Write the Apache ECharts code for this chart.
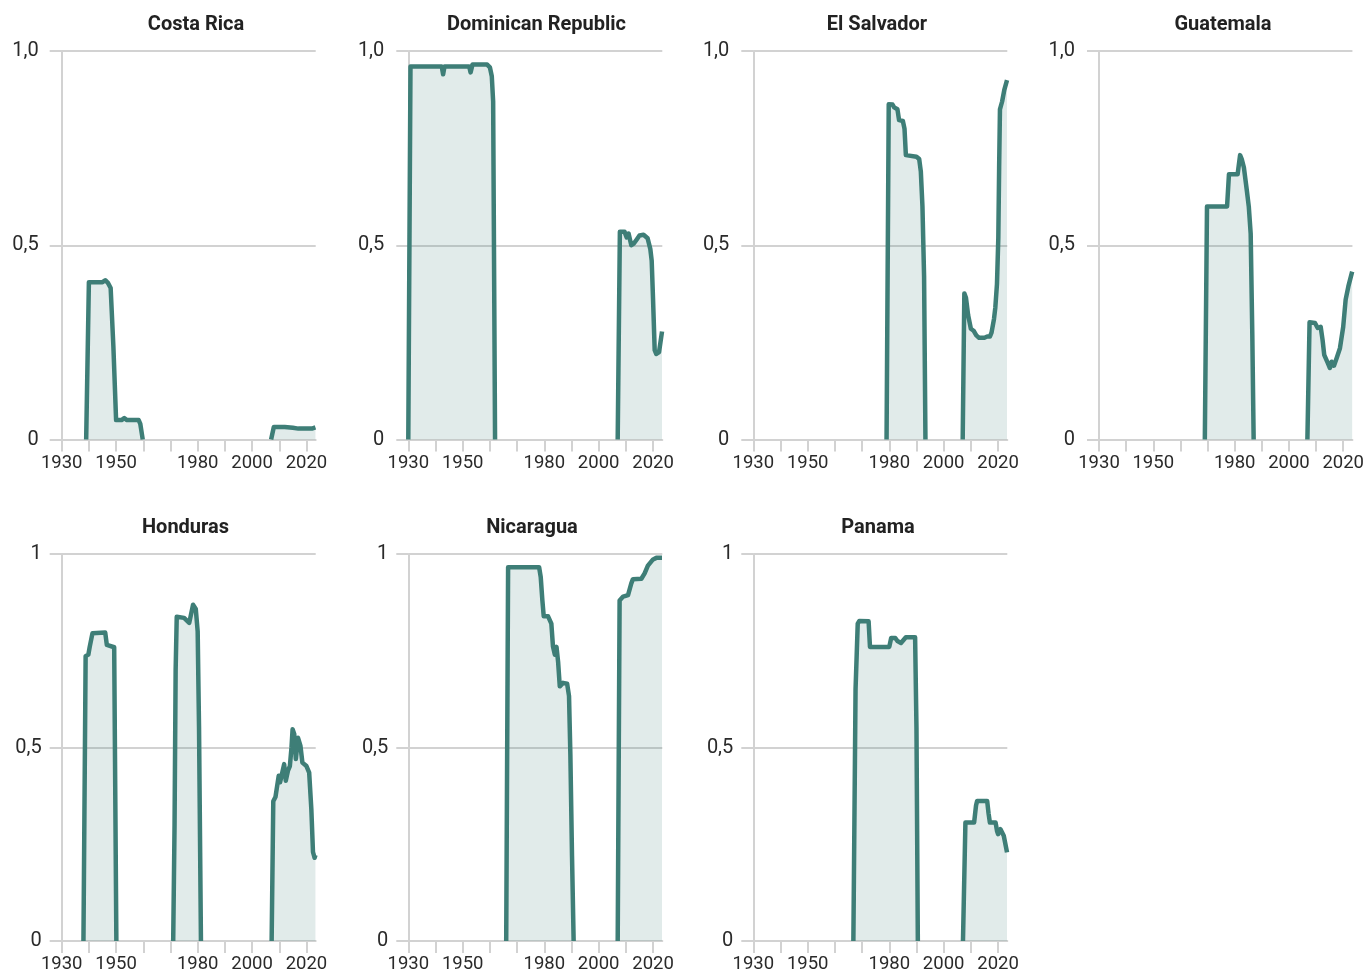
<!DOCTYPE html>
<html><head><meta charset="utf-8">
<script src="https://cdn.jsdelivr.net/npm/echarts@6/dist/echarts.min.js"></script>
<style>html,body{margin:0;padding:0;background:#fff}#c{width:1367px;height:974px}</style>
</head><body><div id="c"></div>
<script>
// ---- data (year, value); each country has separate segments ----
const countryNames = ['Costa Rica','Dominican Republic','El Salvador','Guatemala','Honduras','Nicaragua','Panama'];

const costaRica = [
  [[1939,0],[1940,0.405],[1945,0.405],[1946,0.41],[1947,0.403],[1948,0.39],[1949,0.24],[1950,0.05],[1952,0.05],[1953,0.055],[1954,0.05],[1958.3,0.05],[1958.9,0.04],[1959.8,0]],
  [[2007,0],[2008,0.032],[2012,0.032],[2015,0.03],[2017,0.028],[2022,0.028],[2023.3,0.031]]
];
const dominicanRepublic = [
  [[1930,0],[1930.8,0.96],[1942.3,0.96],[1942.8,0.94],[1943.3,0.96],[1952.4,0.96],[1952.9,0.945],[1953.6,0.965],[1959,0.965],[1960,0.958],[1960.7,0.935],[1961.2,0.87],[1961.9,0]],
  [[2007,0],[2007.8,0.535],[2009.5,0.535],[2010.3,0.52],[2011,0.53],[2012,0.5],[2013,0.505],[2014,0.515],[2015,0.525],[2016.5,0.527],[2018,0.518],[2019,0.49],[2019.5,0.46],[2020,0.36],[2020.6,0.23],[2021.2,0.22],[2022.2,0.225],[2023.3,0.278]]
];
const elSalvador = [
  [[1979,0],[1979.8,0.863],[1981.2,0.862],[1981.8,0.855],[1983,0.85],[1983.6,0.822],[1985,0.82],[1985.6,0.8],[1986.1,0.732],[1990,0.728],[1991,0.722],[1991.6,0.69],[1992.2,0.6],[1992.8,0.42],[1993.3,0]],
  [[2007,0],[2007.6,0.376],[2008.2,0.365],[2009,0.32],[2010,0.285],[2011,0.28],[2012,0.268],[2013,0.262],[2015,0.262],[2016,0.265],[2017,0.265],[2017.6,0.275],[2018.5,0.31],[2019,0.34],[2019.6,0.4],[2020.1,0.52],[2020.4,0.7],[2020.7,0.85],[2021.5,0.87],[2022.3,0.9],[2023.3,0.925]]
];
const guatemala = [
  [[1969,0],[1969.8,0.6],[1977.2,0.6],[1977.9,0.683],[1981.1,0.683],[1982,0.732],[1982.6,0.722],[1983.4,0.7],[1984.5,0.64],[1985.2,0.6],[1985.9,0.53],[1986.5,0.27],[1987,0]],
  [[2006.8,0],[2007.6,0.302],[2009.6,0.3],[2010.6,0.287],[2011.7,0.29],[2012.4,0.256],[2013,0.218],[2014.3,0.197],[2015.1,0.184],[2015.7,0.2],[2016.6,0.19],[2017.6,0.21],[2018.8,0.235],[2020,0.29],[2020.9,0.36],[2021.9,0.394],[2023.3,0.432]]
];
const honduras = [
  [[1938,0],[1938.8,0.736],[1939.8,0.74],[1940.3,0.76],[1941.3,0.795],[1946,0.797],[1946.6,0.765],[1947.3,0.76],[1949.3,0.759],[1950.1,0]],
  [[1971,0],[1971.5,0.3],[1971.9,0.7],[1972.3,0.838],[1975,0.835],[1976.9,0.822],[1978.3,0.869],[1979.3,0.858],[1980,0.8],[1980.5,0.55],[1981.2,0]],
  [[2007.2,0],[2007.8,0.361],[2008.6,0.372],[2009.8,0.427],[2010.3,0.41],[2010.8,0.405],[2011.8,0.457],[2012.4,0.414],[2013.2,0.44],[2013.9,0.452],[2014.5,0.5],[2014.9,0.547],[2015.5,0.535],[2016.1,0.47],[2016.9,0.525],[2017.8,0.504],[2018.5,0.461],[2020,0.452],[2021,0.435],[2021.8,0.34],[2022.4,0.23],[2023,0.215],[2023.3,0.222]]
];
const nicaragua = [
  [[1966,0],[1966.7,0.966],[1978.1,0.966],[1978.7,0.94],[1979.3,0.88],[1979.8,0.839],[1981.4,0.839],[1982.6,0.82],[1983.2,0.761],[1983.9,0.74],[1984.5,0.76],[1985.1,0.72],[1985.7,0.658],[1986.9,0.667],[1988.4,0.665],[1989.1,0.633],[1989.6,0.48],[1990.2,0.22],[1990.8,0]],
  [[2007,0],[2007.7,0.88],[2009,0.89],[2010.8,0.894],[2012,0.924],[2012.6,0.935],[2015.7,0.936],[2016.9,0.95],[2018.1,0.97],[2020,0.986],[2021.2,0.99],[2023.3,0.99]]
];
const panama = [
  [[1966.8,0],[1967.6,0.65],[1968.4,0.82],[1969,0.827],[1972.4,0.826],[1972.9,0.76],[1980,0.76],[1980.7,0.783],[1982.2,0.783],[1983,0.775],[1984.3,0.77],[1986.1,0.785],[1989.5,0.785],[1990,0.55],[1990.5,0]],
  [[2007.1,0],[2008,0.306],[2011.2,0.306],[2011.9,0.35],[2012.3,0.362],[2016,0.362],[2016.5,0.33],[2017,0.306],[2019.1,0.306],[2019.6,0.285],[2020,0.276],[2020.9,0.289],[2022.1,0.272],[2023.3,0.229]]
];
const countryData = [costaRica, dominicanRepublic, elSalvador, guatemala, honduras, nicaragua, panama];

const xTickValues = [1930,1940,1950,1960,1970,1980,1990,2000,2010,2020];
const xTickLabels = [1930,1950,1980,2000,2020];
const yTickLabelsRow1 = {'0':'0','0.5':'0,5','1':'1,0'};
const yTickLabelsRow2 = {'0':'0','0.5':'0,5','1':'1'};

// ---- layout ----
const gridLefts = [61.7, 408.3, 753.3, 1099, 61.7, 408.3, 753.3];
const gridTops = [51, 51, 51, 51, 554, 554, 554];
const gridH = 388.5, gridW = 254;
const titleCX = [196, 536.5, 877, 1223, 185.5, 532, 878];
const titleCY = [24.5, 24.5, 24.5, 24.5, 527.5, 527.5, 527.5];
const yLabelMargin = [23, 24, 24, 24, 20, 20, 20];

const LINE = '#3e7e77';
const GRAY = '#d2d2d2';
const FONT = 'Roboto, "Noto Sans", sans-serif';

function joinSegments(segs) {
  const out = [];
  segs.forEach((s, i) => {
    if (i > 0) {
      const prev = segs[i-1];
      out.push([(prev[prev.length-1][0] + s[0][0]) / 2, null]);
    }
    s.forEach(p => out.push(p));
  });
  return out;
}

const grid = [], xAxis = [], yAxis = [], series = [], graphic = [];
countryNames.forEach((name, i) => {
  const labels = i < 4 ? yTickLabelsRow1 : yTickLabelsRow2;
  grid.push({left: gridLefts[i], top: gridTops[i], width: gridW, height: gridH, containLabel: false});
  xAxis.push({
    type: 'value', gridIndex: i, min: 1930, max: 2023.4,
    axisLine: {show: true, lineStyle: {color: GRAY, width: 2}},
    axisTick: {show: true, length: 12, customValues: xTickValues, lineStyle: {color: GRAY, width: 2}},
    axisLabel: {show: true, customValues: xTickLabels, margin: 14, fontSize: 18.5, color: '#2a2a2a', fontFamily: FONT, formatter: v => String(v)},
    splitLine: {show: false}
  });
  yAxis.push({
    type: 'value', gridIndex: i, min: 0, max: 1, interval: 0.5,
    axisLine: {show: true, lineStyle: {color: GRAY, width: 2}},
    axisTick: {show: true, length: 12, lineStyle: {color: GRAY, width: 2}},
    axisLabel: {show: true, margin: yLabelMargin[i], fontSize: 20, color: '#2a2a2a', fontFamily: FONT,
      formatter: v => labels[String(v)] !== undefined ? labels[String(v)] : String(v).replace('.', ',')},
    splitLine: {show: true, lineStyle: {color: GRAY, width: 2}}
  });
  series.push({
    type: 'line', xAxisIndex: i, yAxisIndex: i,
    data: joinSegments(countryData[i]),
    showSymbol: false, symbol: 'none', connectNulls: false, smooth: false,
    lineStyle: {color: LINE, width: 4.5, join: 'round', cap: 'butt'},
    areaStyle: {color: LINE, opacity: 0.155},
    animation: false, silent: true
  });
  graphic.push({
    type: 'text', x: titleCX[i], y: titleCY[i],
    style: {text: name, fill: '#222', font: 'bold 20px ' + FONT,
      align: 'center', verticalAlign: 'middle', textAlign: 'center', textVerticalAlign: 'middle'}
  });
});

const chart = echarts.init(document.getElementById('c'), null, {renderer: 'canvas'});
chart.setOption({animation: false, grid, xAxis, yAxis, series, graphic});
</script></body></html>
